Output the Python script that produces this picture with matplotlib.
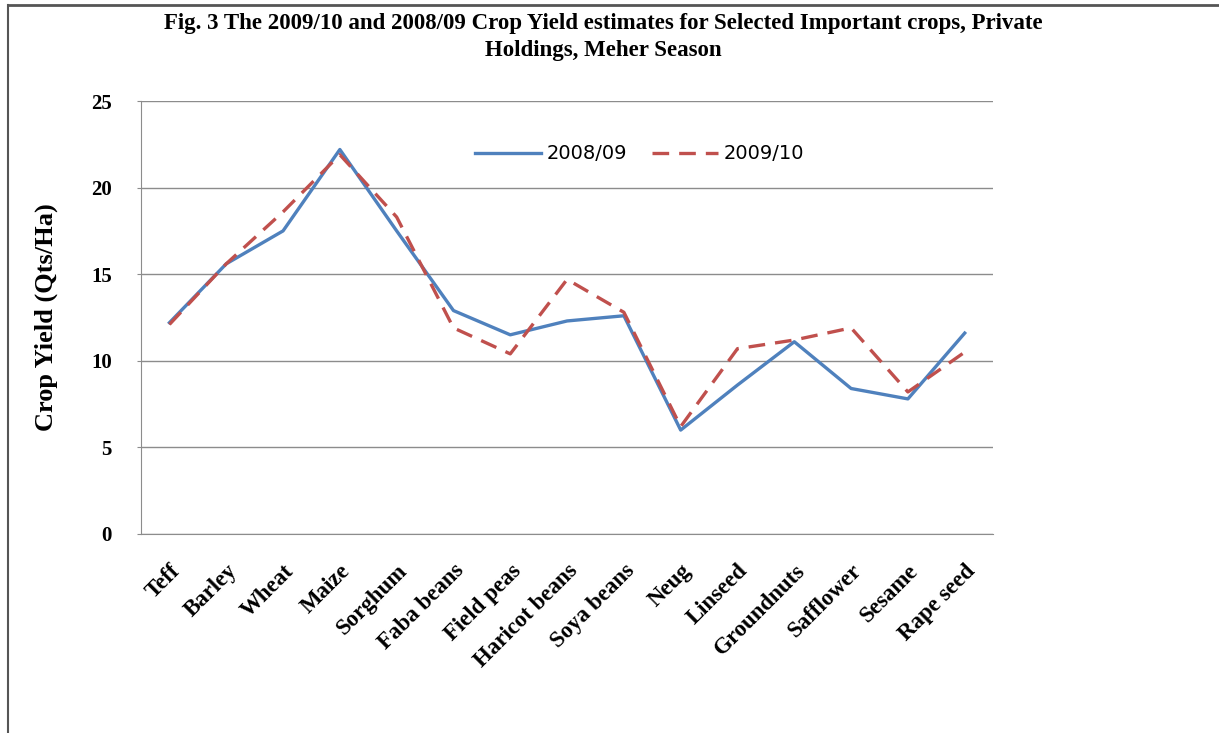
import matplotlib.pyplot as plt
from matplotlib.lines import Line2D

crops = ['Teff', 'Barley', 'Wheat', 'Maize', 'Sorghum', 'Faba beans', 'Field peas',
         'Haricot beans', 'Soya beans', 'Neug', 'Linseed', 'Groundnuts', 'Safflower',
         'Sesame', 'Rape seed']
yield_2008 = [12.2, 15.6, 17.5, 22.2, 17.5, 12.9, 11.5, 12.3, 12.6, 6.0, 8.6, 11.1, 8.4, 7.8, 11.6]
yield_2009 = [12.1, 15.6, 18.6, 21.9, 18.3, 11.9, 10.4, 14.7, 12.8, 6.2, 10.7, 11.2, 11.9, 8.2, 10.5]
yticks = [0, 5, 10, 15, 20, 25]

serif = ['Liberation Serif', 'DejaVu Serif']

def main():
    fig = plt.figure(figsize=(12.19, 7.33), dpi=100)
    ax = fig.add_axes([0.1157, 0.2715, 0.699, 0.5907])

    x = list(range(len(crops)))
    ax.plot(x, yield_2008, color='#4F81BD', lw=2.4, label='2008/09')
    ax.plot(x, yield_2009, color='#C0504D', lw=2.4, dashes=(5, 3), label='2009/10')

    ax.set_xlim(-0.5, len(crops) - 0.5)
    ax.set_ylim(0, 25)
    ax.set_yticks(yticks)
    ax.yaxis.grid(True, color='#8c8c8c', lw=1)
    ax.set_axisbelow(True)
    for side in ['top', 'right']:
        ax.spines[side].set_visible(False)
    ax.spines['left'].set_color('#8c8c8c')
    ax.spines['bottom'].set_color('#8c8c8c')
    ax.tick_params(axis='y', length=3, color='#8c8c8c', pad=18)
    ax.tick_params(axis='x', length=0, pad=19)

    ax.set_yticklabels([str(v) for v in yticks], fontfamily=serif, fontweight='bold', fontsize=15)
    ax.set_xticks(x)
    ax.set_xticklabels(crops, rotation=45, ha='right', rotation_mode='anchor',
                       fontfamily=serif, fontweight='bold', fontsize=16.5)
    ax.set_ylabel('Crop Yield (Qts/Ha)', fontfamily=serif, fontweight='bold', fontsize=19, labelpad=24)

    ax.legend(loc='upper center', bbox_to_anchor=(0.585, 0.94), ncol=2, frameon=False,
              handlelength=3.4, handletextpad=0.3, columnspacing=1.25,
              prop={'family': 'DejaVu Sans', 'size': 14})

    fig.text(0.495, 0.982, 'Fig. 3 The 2009/10 and 2008/09 Crop Yield estimates for Selected Important crops, Private\nHoldings, Meher Season',
             ha='center', va='top', fontfamily=serif, fontweight='bold', fontsize=16.5, linespacing=1.35)

    # frame lines of the original screenshot
    fig.add_artist(Line2D([0.0066, 0.0066], [0, 0.993], color='#555555', lw=1.5, transform=fig.transFigure))
    fig.add_artist(Line2D([0.0066, 1], [0.993, 0.993], color='#555555', lw=2, transform=fig.transFigure))

    fig.savefig('out.png', dpi=100)

if __name__ == '__main__':
    main()
